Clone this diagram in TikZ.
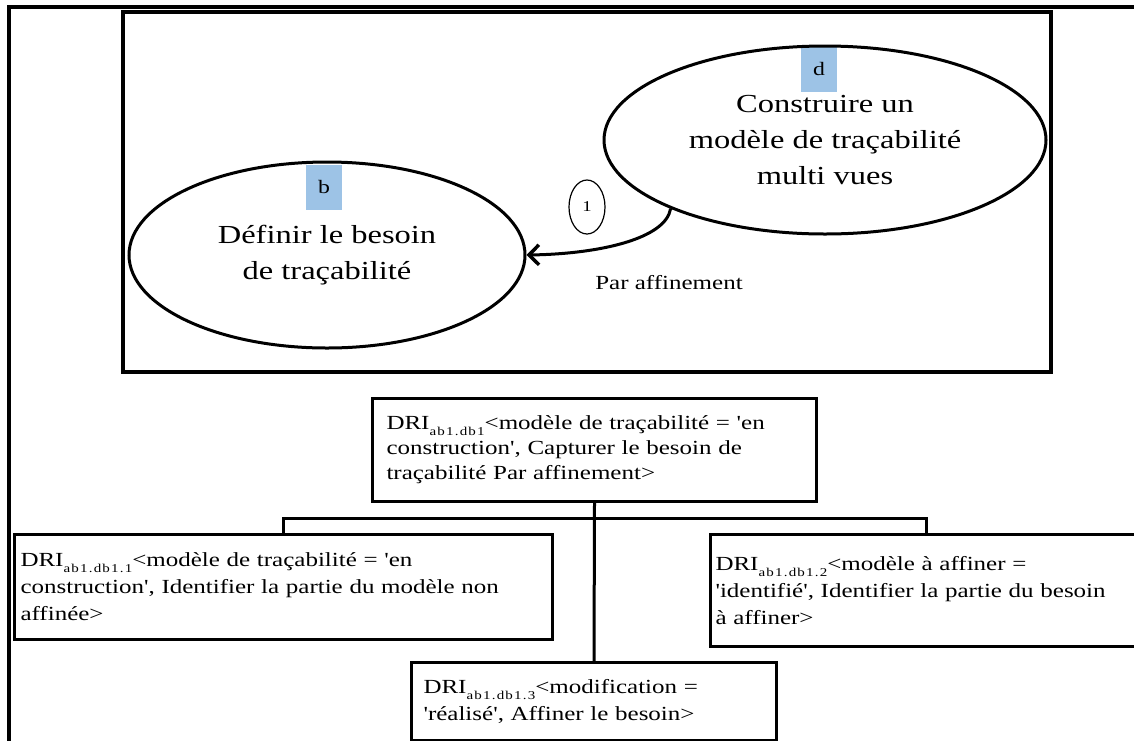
\documentclass[tikz,border=0pt]{standalone}
\usepackage{fontspec}
\setmainfont{Liberation Serif}[FakeStretch=1.25,Ligatures=TeXOff]
\newfontfamily\subfam{Liberation Serif}[FakeStretch=1.25,LetterSpace=10,Ligatures=TeXOff]
\usetikzlibrary{arrows.meta,shapes.geometric}
\definecolor{tagblue}{HTML}{9DC3E6}
\newcommand{\dri}[1]{DRI\raisebox{-6pt}{\subfam\fontsize{12}{12}\selectfont #1}}

\begin{document}
\begin{tikzpicture}[x=1pt,y=-1pt,
    frame/.style={line width=3.5pt},
    goal/.style={ellipse,draw,line width=3pt,inner sep=0pt,align=center,font=\fontsize{26}{36}\selectfont},
    tag/.style={fill=tagblue,minimum width=36pt,minimum height=45pt,inner sep=0pt,font=\fontsize{19}{19}\selectfont},
    dribox/.style={draw,line width=3pt,anchor=north west,align=left,inner ysep=0pt,font=\fontsize{20}{27}\selectfont},
    link/.style={line width=3pt}]
    \useasboundingbox (0,0) rectangle (1134,740);
    \clip (0,0) rectangle (1134,740);
    \draw[frame] (9,770) |- (1170,7);
    \draw[frame] (123,12) rectangle (1051,372);
    % buts
    \node[tag] (tb) at (324,187) {b};
    \node[tag] (td) at (819,69) {d};
    \node[goal,minimum width=396pt,minimum height=186pt] (b) at (327,255) {Définir le besoin\\de traçabilité};
    \node[goal,minimum width=442pt,minimum height=188pt] (d) at (825,140) {Construire un\\modèle de traçabilité\\multi vues};
    \node[ellipse,draw,line width=1.2pt,minimum width=36pt,minimum height=54pt,inner sep=0pt,font=\fontsize{15}{15}\selectfont] (n1) at (587,207) {1};
    \draw[link,-{Straight Barb[length=10pt,width=20pt,line width=3.5pt]}] (d.204) .. controls +(-5,30) and +(73,-1) .. (b.east);
    \node[font=\fontsize{20}{20}\selectfont] (pa) at (669,283) {Par affinement};
    % arbre des DRI
    \node[dribox,text width=416pt,inner xsep=14pt,minimum height=103pt,font=\fontsize{20}{25}\selectfont] (top) at (371,397)
        {\dri{ab1.db1}<modèle de traçabilité = 'en\\construction', Capturer le besoin de\\traçabilité Par affinement>\\[-8pt]};
    \node[dribox,text width=526pt,inner xsep=6pt,minimum height=105pt] (lb) at (13,533)
        {\dri{ab1.db1.1}<modèle de traçabilité = 'en\\construction', Identifier la partie du modèle non\\affinée>};
    \node[dribox,text width=421pt,inner xsep=5pt,minimum height=112pt] (rb) at (709,533)
        {\dri{ab1.db1.2}<modèle à affiner =\\'identifié', Identifier la partie du besoin\\à affiner>};
    \node[dribox,text width=341pt,inner xsep=12pt,minimum height=78pt] (bot) at (410,661)
        {\dri{ab1.db1.3}<modification =\\'réalisé', Affiner le besoin>};
    \coordinate (bar) at (593,518);
    \draw[link] (top.south) -- (bot.north);
    \draw[link] (lb.north) |- (bar) -| (rb.north);
\end{tikzpicture}
\end{document}
